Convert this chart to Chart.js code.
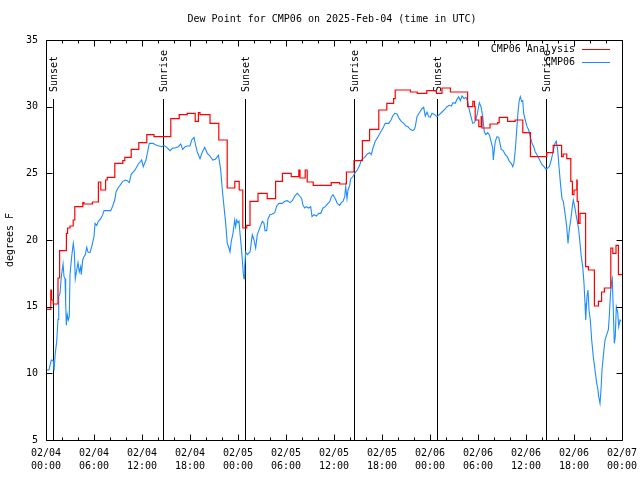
<!DOCTYPE html>
<html>
<head>
<meta charset="utf-8">
<script src="https://cdn.jsdelivr.net/npm/chart.js@4"></script>
<style>
html,body{margin:0;padding:0;background:#fff;}
#wrap{width:640px;height:480px;}
</style>
</head>
<body>
<div id="wrap"><canvas id="c" width="640" height="480"></canvas></div>
<script>
// ---- data (x = hours since 02/04 00:00 UTC) ----
const titleText = "Dew Point for CMP06 on 2025-Feb-04 (time in UTC)";
const yAxisLabel = "degrees F";
const xTickLabels = [["02/04","00:00"],["02/04","06:00"],["02/04","12:00"],["02/04","18:00"],["02/05","00:00"],["02/05","06:00"],["02/05","12:00"],["02/05","18:00"],["02/06","00:00"],["02/06","06:00"],["02/06","12:00"],["02/06","18:00"],["02/07","00:00"]];
const seriesNames = ["CMP06 Analysis", "CMP06"];

const analysisHours = [0.05,0.6,0.7,0.9,1.5,1.7,2.55,2.7,3.0,3.4,3.6,4.6,4.75,5.8,6.55,6.85,7.45,7.65,8.6,9.6,9.85,10.65,11.6,12.6,13.5,15.6,16.65,17.65,18.65,19.05,19.25,20.5,21.6,22.65,23.6,24.15,24.6,25.1,25.5,26.5,27.65,28.7,29.55,30.65,31.6,31.75,32.4,32.65,33.4,35.65,36.7,37.55,38.5,39.55,40.45,41.6,42.6,43.45,43.65,45.55,46.4,47.6,48.8,49.5,50.55,52.7,53.35,53.55,53.65,54.1,54.4,54.5,55.5,56.45,56.65,57.7,58.65,59.6,60.55,62.6,63.4,64.45,64.65,65.1,65.6,65.8,66.0,66.35,66.4,66.55,66.75,67.45,67.8,68.55,69.05,69.45,69.8,70.6,70.85,71.25,71.55,72.0];
const analysisValues = [14.8,16.25,15.5,15.2,17.15,19.2,20.5,20.9,21.05,21.5,22.5,22.8,22.7,22.85,24.35,23.75,24.5,24.7,25.75,25.95,26.2,26.8,27.3,27.9,27.75,29.1,29.4,29.5,28.9,29.55,29.4,28.75,27.5,23.9,24.4,23.75,20.9,21.1,22.9,23.5,23.1,24.4,25.0,24.75,25.25,24.65,25.25,24.35,24.1,24.3,24.2,25.1,25.95,27.45,28.3,29.75,30.25,30.6,31.25,31.1,31.0,31.2,31.0,31.4,31.1,30.0,30.4,30.0,29.0,28.5,29.25,28.4,28.7,28.8,29.2,28.9,29.0,28.05,26.25,26.55,27.1,26.25,26.45,26.1,24.4,23.4,23.75,24.5,22.9,21.25,22.0,18.0,17.75,15.05,15.4,16.1,16.4,19.4,19.0,19.6,17.4,17.4];

const obsHours = [0.09,0.375,0.5,0.66,0.91,1.0,1.16,1.34,1.5,1.59,1.75,1.91,2.13,2.25,2.38,2.46,2.54,2.66,2.79,2.91,3.0,3.21,3.41,3.54,3.66,3.84,4.0,4.16,4.34,4.41,4.59,4.75,4.91,5.09,5.25,5.5,5.75,6.0,6.13,6.34,6.54,6.84,7.09,7.25,7.66,8.09,8.34,8.59,8.75,9.0,9.25,9.59,9.91,10.16,10.41,10.66,11.13,11.54,11.96,12.16,12.5,12.66,12.91,13.34,13.84,14.46,14.75,15.09,15.5,15.84,16.13,16.54,16.84,17.09,17.38,17.66,18.0,18.21,18.5,18.71,18.91,19.25,19.54,19.84,20.16,20.5,20.84,21.16,21.34,21.56,21.84,22.04,22.25,22.46,22.66,22.875,23.0,23.16,23.375,23.59,23.71,23.84,24.0,24.125,24.25,24.41,24.54,24.66,24.75,24.84,24.96,25.16,25.5,25.79,26.0,26.21,26.41,26.84,27.04,27.25,27.375,27.59,27.75,28.0,28.29,28.59,28.84,29.125,29.54,29.84,30.16,30.5,30.79,31.09,31.41,31.71,31.96,32.125,32.34,32.54,32.84,33.09,33.25,33.5,33.79,34.09,34.34,34.625,34.91,35.25,35.5,35.66,35.875,36.16,36.41,36.71,36.91,37.125,37.34,37.46,37.625,37.75,37.96,38.09,38.375,38.59,38.91,39.21,39.41,39.625,39.84,40.16,40.46,40.66,40.875,41.16,41.5,41.84,42.125,42.41,42.84,43.125,43.34,43.59,43.875,44.16,44.41,44.71,45.0,45.25,45.54,45.84,46.04,46.16,46.375,46.66,47.0,47.21,47.41,47.625,47.84,48.04,48.25,48.59,48.875,49.16,49.5,49.84,50.125,50.41,50.66,50.875,51.16,51.375,51.59,51.79,52.0,52.25,52.5,52.71,52.91,53.125,53.34,53.54,53.75,53.96,54.16,54.375,54.59,54.79,55.0,55.21,55.41,55.625,55.84,55.91,56.04,56.16,56.375,56.59,56.75,56.91,57.16,57.41,57.66,57.91,58.16,58.34,58.5,58.66,58.84,59.0,59.16,59.29,59.46,59.59,59.71,59.91,60.125,60.34,60.54,60.75,60.96,61.16,61.375,61.66,62.0,62.34,62.5,62.71,62.91,63.16,63.375,63.625,63.79,63.96,64.16,64.34,64.5,64.66,64.875,65.09,65.25,65.41,65.59,65.79,65.91,66.09,66.25,66.41,66.59,66.75,66.91,67.09,67.25,67.375,67.46,67.625,67.75,67.875,68.04,68.21,68.41,68.625,68.84,68.96,69.09,69.25,69.375,69.5,69.66,69.875,70.09,70.29,70.41,70.54,70.66,70.79,70.91,71.04,71.16,71.29,71.46,71.59,71.75,71.875];
const obsValues = [10.25,10.25,10.6,11.0,10.95,10.2,11.5,12.4,14.05,15.75,16.0,17.25,18.2,17.25,17.1,15.25,13.6,14.4,14.0,14.25,17.4,18.75,19.75,19.1,17.1,17.75,18.3,17.6,18.0,17.4,18.5,18.75,18.9,19.45,19.1,19.05,19.6,20.25,21.25,21.1,21.4,21.6,21.9,22.2,22.2,22.2,22.55,23.0,23.6,23.9,24.1,24.4,24.5,24.45,24.3,24.95,25.25,25.7,26.0,25.5,26.0,26.5,27.25,27.25,27.1,27.0,27.1,26.95,26.7,26.9,26.9,27.0,27.2,26.8,27.0,27.05,27.05,27.5,27.7,27.1,26.6,26.1,26.6,26.95,26.5,26.3,26.0,26.05,26.2,26.35,25.25,23.75,22.5,21.25,19.75,19.4,19.1,19.9,20.5,21.5,21.0,21.5,21.3,21.4,20.5,19.5,18.5,17.5,17.1,18.0,19.1,18.9,19.1,20.4,20.0,19.4,20.4,21.1,21.4,21.25,20.7,20.7,21.6,21.9,21.95,22.05,22.55,22.75,22.75,22.9,22.95,22.8,22.95,23.3,23.5,23.3,23.1,22.6,22.4,22.5,22.4,22.5,21.75,21.9,21.8,22.0,22.0,22.4,22.5,22.75,22.9,23.25,23.4,23.1,22.75,22.6,22.8,22.9,23.25,24.0,23.1,23.75,24.1,24.6,24.75,25.0,25.25,25.6,26.0,26.1,26.2,26.45,26.55,26.4,26.9,27.4,27.75,28.1,28.4,28.75,28.75,29.0,29.3,29.5,29.45,29.1,28.9,28.75,28.55,28.5,28.3,28.2,28.3,28.5,29.25,29.55,29.85,29.95,29.3,29.6,29.25,29.2,29.5,29.4,29.25,29.4,29.6,29.8,30.0,30.1,30.05,30.3,30.25,30.55,30.75,30.45,30.8,30.6,30.7,30.4,29.75,29.25,28.75,28.8,29.05,29.6,30.3,30.0,29.25,28.1,27.9,28.05,27.9,27.4,26.9,26.0,26.75,27.4,27.75,27.7,27.25,26.8,26.7,26.4,26.25,25.9,25.75,25.5,25.8,26.75,28.25,29.6,30.5,30.75,30.4,30.45,29.5,29.0,28.5,28.25,27.75,27.25,27.0,26.6,26.4,26.05,25.65,25.45,25.3,25.4,25.5,26.0,26.6,27.25,27.4,26.75,25.25,24.0,23.1,22.9,22.0,21.0,19.75,20.75,21.5,22.5,23.0,22.5,21.9,21.4,20.75,19.75,18.75,18.0,16.75,15.25,14.0,15.75,16.25,14.75,14.0,12.5,11.25,10.25,9.25,8.9,8.25,7.75,8.75,10.25,11.25,12.5,12.9,13.25,14.25,15.75,16.75,17.1,14.75,12.25,12.75,15.0,14.6,13.5,14.0,13.9];

const sunEventHours = [0.875, 14.625, 24.875, 38.5, 48.875, 62.5];
const sunEventLabels = ["Sunset", "Sunrise", "Sunset", "Sunrise", "Sunset", "Sunrise"];
const sunLineTopValue = 30.6;

const xMin = 0, xMax = 72, xMajorStep = 6, xMinorStep = 2;
const yMin = 5, yMax = 35, yStep = 5;

// ---- rendering ----
const FONT = "DejaVu Sans Mono";
const toXY = (xs, ys) => xs.map((x, i) => ({x: x, y: ys[i]}));

const gnuplotDecor = {
  id: 'gnuplotDecor',
  beforeDatasetsDraw(chart) {
    const {ctx, chartArea: a, scales: {x, y}} = chart;
    ctx.save();
    ctx.strokeStyle = '#000';
    ctx.lineWidth = 1;
    ctx.fillStyle = '#000';
    ctx.font = '10px ' + FONT;
    const yTop = Math.round(y.getPixelForValue(sunLineTopValue));
    sunEventHours.forEach((h, i) => {
      const px = Math.round(x.getPixelForValue(h)) + 0.5;
      ctx.beginPath();
      ctx.moveTo(px, yTop);
      ctx.lineTo(px, a.bottom);
      ctx.stroke();
      ctx.save();
      ctx.translate(px + 1, yTop - 7);
      ctx.rotate(-Math.PI / 2);
      ctx.textAlign = 'left';
      ctx.textBaseline = 'middle';
      ctx.fillText(sunEventLabels[i], 0, 0);
      ctx.restore();
    });
    ctx.restore();
  },
  afterDraw(chart) {
    const {ctx, chartArea: a, scales: {x, y}} = chart;
    ctx.save();
    ctx.strokeStyle = '#000';
    ctx.lineWidth = 1;
    const L = Math.round(a.left) + 0.5, R = Math.round(a.right) + 0.5;
    const T = Math.round(a.top) + 0.5, B = Math.round(a.bottom) + 0.5;
    ctx.beginPath();
    ctx.rect(L, T, R - L, B - T);
    for (let h = xMin; h <= xMax; h += xMinorStep) {
      const px = Math.round(x.getPixelForValue(h)) + 0.5;
      const len = (h % xMajorStep === 0) ? 6 : 3;
      ctx.moveTo(px, B); ctx.lineTo(px, B - len);
      ctx.moveTo(px, T); ctx.lineTo(px, T + len);
    }
    for (let v = yMin; v <= yMax; v += yStep) {
      const py = Math.round(y.getPixelForValue(v)) + 0.5;
      ctx.moveTo(L, py); ctx.lineTo(L + 6, py);
      ctx.moveTo(R, py); ctx.lineTo(R - 6, py);
    }
    ctx.stroke();

    ctx.fillStyle = '#000';
    ctx.font = '10px ' + FONT;
    ctx.textAlign = 'center';
    ctx.textBaseline = 'middle';
    ctx.fillText(titleText, (a.left + a.right) / 2 - 2, 19);
    ctx.save();
    ctx.translate(10, (a.top + a.bottom) / 2);
    ctx.rotate(-Math.PI / 2);
    ctx.fillText(yAxisLabel, 0, 0);
    ctx.restore();

    const ds = chart.data.datasets;
    ds.forEach((d, i) => {
      const ly = a.top + 9 + i * 13;
      ctx.fillStyle = '#000';
      ctx.textAlign = 'right';
      ctx.fillText(d.label, a.right - 47, ly);
      ctx.strokeStyle = d.borderColor;
      ctx.beginPath();
      ctx.moveTo(a.right - 40, Math.round(ly) + 0.5);
      ctx.lineTo(a.right - 12, Math.round(ly) + 0.5);
      ctx.stroke();
    });
    ctx.restore();
  }
};

new Chart(document.getElementById('c'), {
  type: 'line',
  data: {
    datasets: [
      {
        label: seriesNames[0],
        data: toXY(analysisHours, analysisValues),
        borderColor: '#ff0000',
        borderWidth: 1.2,
        stepped: 'before',
        pointRadius: 0,
        fill: false
      },
      {
        label: seriesNames[1],
        data: toXY(obsHours, obsValues),
        borderColor: '#1e8cff',
        borderWidth: 1.1,
        tension: 0,
        pointRadius: 0,
        fill: false
      }
    ]
  },
  options: {
    responsive: false,
    animation: false,
    devicePixelRatio: 1,
    layout: { padding: { left: 0, right: 18, top: 40, bottom: 0 } },
    plugins: { legend: { display: false }, title: { display: false }, tooltip: { enabled: false } },
    scales: {
      x: {
        type: 'linear',
        min: xMin, max: xMax,
        grid: { display: false, drawTicks: false },
        border: { display: false },
        afterFit: (s) => { s.height = 40; s.paddingLeft = 0; s.paddingRight = 0; },
        afterBuildTicks: (s) => {
          const t = [];
          for (let h = xMin; h <= xMax; h += xMajorStep) t.push({value: h});
          s.ticks = t;
        },
        ticks: {
          autoSkip: false,
          maxRotation: 0,
          minRotation: 0,
          padding: 7,
          color: '#000',
          font: { family: FONT, size: 10, lineHeight: 1.3 },
          callback: (v) => xTickLabels[Math.round((v - xMin) / xMajorStep)]
        }
      },
      y: {
        min: yMin, max: yMax,
        grid: { display: false, drawTicks: false },
        border: { display: false },
        afterFit: (s) => { s.width = 46; s.paddingTop = 0; s.paddingBottom = 0; },
        ticks: {
          stepSize: yStep,
          padding: 8,
          color: '#000',
          font: { family: FONT, size: 10 }
        }
      }
    }
  },
  plugins: [gnuplotDecor]
});
</script>
</body>
</html>
